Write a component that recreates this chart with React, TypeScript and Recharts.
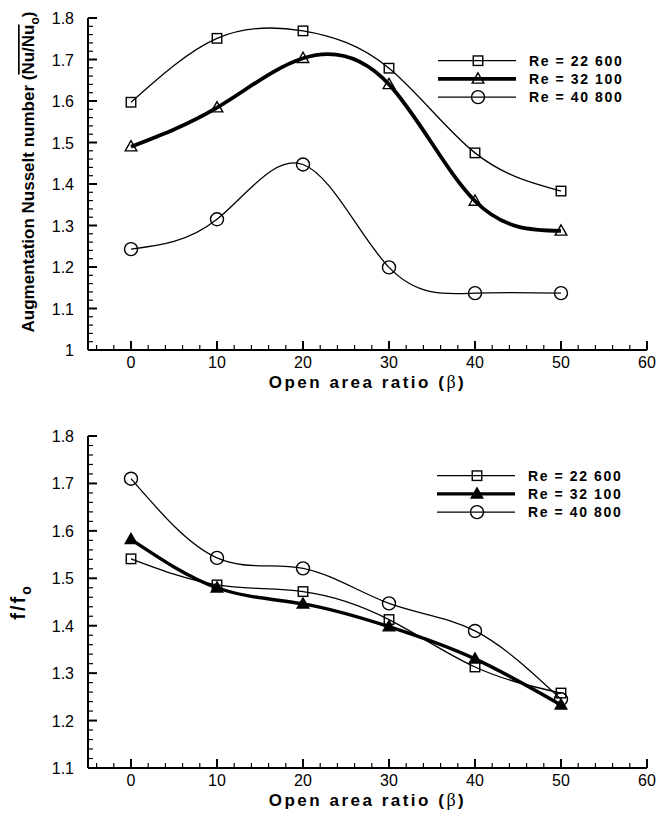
import React from 'react';
import { LineChart, Line, XAxis, YAxis, Legend } from 'recharts';

const FONT = '"Liberation Sans", Arial, Helvetica, sans-serif';

// ---- data ----
const openAreaRatio = [0, 10, 20, 30, 40, 50];
const nuRe22600 = [1.597, 1.751, 1.769, 1.679, 1.475, 1.383];
const nuRe32100 = [1.49, 1.584, 1.703, 1.64, 1.359, 1.287];
const nuRe40800 = [1.243, 1.315, 1.447, 1.199, 1.137, 1.137];
const fRe22600 = [1.541, 1.486, 1.472, 1.413, 1.313, 1.258];
const fRe32100 = [1.582, 1.48, 1.446, 1.398, 1.33, 1.233];
const fRe40800 = [1.71, 1.543, 1.521, 1.447, 1.389, 1.245];
const seriesLabels = ['Re = 22 600', 'Re = 32 100', 'Re = 40 800'];

// ---- tick labels ----
const xMajorTicks = [0, 10, 20, 30, 40, 50, 60];
const nuMajorTicks = [1, 1.1, 1.2, 1.3, 1.4, 1.5, 1.6, 1.7, 1.8];
const fMajorTicks = [1.1, 1.2, 1.3, 1.4, 1.5, 1.6, 1.7, 1.8];

function minorOnly(major: number[], minorStep: number, lo: number, hi: number): number[] {
  const out: number[] = [];
  const start = Math.ceil(lo / minorStep - 1e-9);
  const end = Math.floor(hi / minorStep + 1e-9);
  for (let k = start; k <= end; k++) {
    const v = Math.round(k * minorStep * 1000) / 1000;
    if (!major.some((m) => Math.abs(m - v) < 1e-6)) out.push(v);
  }
  return out;
}

const xMinorTicks = minorOnly(xMajorTicks, 2, -5, 60);
const nuMinorTicks = minorOnly(nuMajorTicks, 0.02, 1, 1.8);
const fMinorTicks = minorOnly(fMajorTicks, 0.02, 1.1, 1.8);

const nuRows = openAreaRatio.map((x, i) => ({ x, a: nuRe22600[i], b: nuRe32100[i], c: nuRe40800[i] }));
const fRows = openAreaRatio.map((x, i) => ({ x, a: fRe22600[i], b: fRe32100[i], c: fRe40800[i] }));

// positions of the inward minor tick marks (placed through the chart's scales)
const nuXMinorRows = xMinorTicks.map((v) => ({ x: v, t: 1 }));
const nuYMinorRows = nuMinorTicks.map((v) => ({ x: -5, t: v }));
const fXMinorRows = xMinorTicks.map((v) => ({ x: v, t: 1.1 }));
const fYMinorRows = fMinorTicks.map((v) => ({ x: -5, t: v }));

const xMinorDot = (p: any) => (
  <path key={`xm${p.index}`} d={`M${p.cx},${p.cy}L${p.cx},${p.cy - 5}`} stroke="#000" strokeWidth={1.2} fill="none" />
);
const yMinorDot = (p: any) => (
  <path key={`ym${p.index}`} d={`M${p.cx},${p.cy}L${p.cx + 5},${p.cy}`} stroke="#000" strokeWidth={1.2} fill="none" />
);

// ---- tick labels (major tick marks drawn by the axes, inward) ----
const renderXTick = (props: any) => {
  const { x, y, payload, index } = props;
  return (
    <text key={`xt${index}`} x={x} y={y + 18} textAnchor="middle" fontSize={16} fontFamily={FONT} fill="#000" stroke="none">
      {String(payload.value)}
    </text>
  );
};

const renderYTick = (props: any) => {
  const { x, y, payload, index } = props;
  return (
    <text key={`yt${index}`} x={x - 14} y={y + 6} textAnchor="end" fontSize={16} fontFamily={FONT} fill="#000" stroke="none">
      {String(Math.round(payload.value * 10) / 10)}
    </text>
  );
};

// ---- titles ----
const XTitle = (props: any) => {
  const vb = props.viewBox || { x: 88, y: 350, width: 559, height: 50 };
  return (
    <text x={vb.x + vb.width / 2} y={vb.y + 38} textAnchor="middle" fontSize={17} fontWeight="bold" fontFamily={FONT} letterSpacing={2.5} fill="#000">
      Open area ratio (<tspan fontFamily='"Liberation Serif", "DejaVu Serif", serif' fontWeight="normal" fontSize={18}>β</tspan>)
    </text>
  );
};

const NuTitle = (props: any) => {
  const vb = props.viewBox || { x: 0, y: 18, width: 88, height: 332 };
  const cx = vb.x + 34;
  const cy = vb.y + vb.height / 2 - 12;
  return (
    <text x={cx} y={cy} transform={`rotate(-90, ${cx}, ${cy})`} textAnchor="middle" fontSize={17} fontWeight="bold" fontFamily={FONT} fill="#000">
      Augmentation Nusselt number (<tspan style={{ textDecoration: 'overline' }}>Nu/Nu</tspan><tspan fontSize={12} dy={5}>o</tspan><tspan dy={-5}>)</tspan>
    </text>
  );
};

const FTitle = (props: any) => {
  const vb = props.viewBox || { x: 0, y: 18, width: 88, height: 332 };
  const cx = vb.x + 25;
  const cy = vb.y + vb.height / 2;
  return (
    <text x={cx} y={cy} transform={`rotate(-90, ${cx}, ${cy})`} textAnchor="middle" fontSize={20} fontWeight="bold" fontFamily={FONT} letterSpacing={2} fill="#000">
      f/f<tspan fontSize={14} dy={6}>o</tspan>
    </text>
  );
};

// ---- markers ----
const squareShape = (cx: number, cy: number, key?: any) => (
  <rect key={key} x={cx - 4.75} y={cy - 4.75} width={9.5} height={9.5} fill="none" stroke="#000" strokeWidth={1.4} />
);
const triShape = (cx: number, cy: number, filled: boolean, key?: any) => (
  <polygon key={key} points={`${cx},${cy - 6} ${cx - 5.8},${cy + 4.2} ${cx + 5.8},${cy + 4.2}`} fill={filled ? '#000' : 'none'} stroke="#000" strokeWidth={1.4} />
);
const circleShape = (cx: number, cy: number, key?: any) => (
  <circle key={key} cx={cx} cy={cy} r={6.5} fill="none" stroke="#000" strokeWidth={1.4} />
);

const dotSquare = (p: any) => squareShape(p.cx, p.cy, `s${p.index}`);
const dotTriOpen = (p: any) => triShape(p.cx, p.cy, false, `t${p.index}`);
const dotTriFilled = (p: any) => triShape(p.cx, p.cy, true, `t${p.index}`);
const dotCircle = (p: any) => circleShape(p.cx, p.cy, `c${p.index}`);

const LegendBox = ({ filledTri, thick }: { filledTri: boolean; thick: number }) => {
  const rows = [0, 1, 2];
  return (
    <svg width={230} height={62}>
      {rows.map((i) => {
        const y = 10.7 + i * 18.2;
        return (
          <g key={i}>
            <line x1={8} x2={86} y1={y} y2={y} stroke="#000" strokeWidth={i === 1 ? thick : 1.3} />
            {i === 0 && squareShape(48, y)}
            {i === 1 && triShape(48, y, filledTri)}
            {i === 2 && circleShape(48, y)}
            <text x={99} y={y + 5} fontSize={14} fontWeight="bold" fontFamily={FONT} letterSpacing={1.6} fill="#000">
              {seriesLabels[i]}
            </text>
          </g>
        );
      })}
    </svg>
  );
};

const axisLine = { stroke: '#000', strokeWidth: 2 };
const majorTickLine = { stroke: '#000', strokeWidth: 2 };

export default function App() {
  return (
    <div style={{ position: 'absolute', left: 0, top: 0, width: 660, height: 817, background: '#fff' }}>
      <div style={{ position: 'absolute', left: 0, top: 0 }}>
        <LineChart width={660} height={400} data={nuRows} margin={{ top: 18, right: 13, bottom: 0, left: 0 }}>
          <XAxis dataKey="x" type="number" domain={[-5, 60]} ticks={xMajorTicks} interval={0} tick={renderXTick} tickLine={majorTickLine} tickSize={-9} tickMargin={9} axisLine={axisLine} height={50} label={<XTitle />} allowDataOverflow />
          <XAxis xAxisId="top" orientation="top" type="number" domain={[-5, 60]} tick={false} tickLine={false} axisLine={axisLine} height={0} allowDataOverflow />
          <YAxis type="number" domain={[1, 1.8]} ticks={nuMajorTicks} interval={0} tick={renderYTick} tickLine={majorTickLine} tickSize={-9} tickMargin={9} axisLine={axisLine} width={88} label={<NuTitle />} allowDataOverflow />
          <YAxis yAxisId="right" orientation="right" type="number" domain={[1, 1.8]} tick={false} tickLine={false} axisLine={axisLine} width={0} allowDataOverflow />
          <Line data={nuXMinorRows} dataKey="t" stroke="none" dot={xMinorDot} activeDot={false} legendType="none" isAnimationActive={false} />
          <Line data={nuYMinorRows} dataKey="t" stroke="none" dot={yMinorDot} activeDot={false} legendType="none" isAnimationActive={false} />
          <Line dataKey="a" type="natural" stroke="#000" strokeWidth={1.3} dot={dotSquare} isAnimationActive={false} />
          <Line dataKey="b" type="natural" stroke="#000" strokeWidth={3.8} dot={dotTriOpen} isAnimationActive={false} />
          <Line dataKey="c" type="natural" stroke="#000" strokeWidth={1.3} dot={dotCircle} isAnimationActive={false} />
          <Legend layout="vertical" align="center" verticalAlign="middle" wrapperStyle={{ left: 430, top: 50, width: 230, height: 62 }} content={() => <LegendBox filledTri={false} thick={3.8} />} />
        </LineChart>
      </div>
      <div style={{ position: 'absolute', left: 0, top: 418 }}>
        <LineChart width={660} height={399} data={fRows} margin={{ top: 18, right: 13, bottom: 0, left: 0 }}>
          <XAxis dataKey="x" type="number" domain={[-5, 60]} ticks={xMajorTicks} interval={0} tick={renderXTick} tickLine={majorTickLine} tickSize={-9} tickMargin={9} axisLine={axisLine} height={49} label={<XTitle />} allowDataOverflow />
          <XAxis xAxisId="top" orientation="top" type="number" domain={[-5, 60]} tick={false} tickLine={false} axisLine={axisLine} height={0} allowDataOverflow />
          <YAxis type="number" domain={[1.1, 1.8]} ticks={fMajorTicks} interval={0} tick={renderYTick} tickLine={majorTickLine} tickSize={-9} tickMargin={9} axisLine={axisLine} width={88} label={<FTitle />} allowDataOverflow />
          <YAxis yAxisId="right" orientation="right" type="number" domain={[1.1, 1.8]} tick={false} tickLine={false} axisLine={axisLine} width={0} allowDataOverflow />
          <Line data={fXMinorRows} dataKey="t" stroke="none" dot={xMinorDot} activeDot={false} legendType="none" isAnimationActive={false} />
          <Line data={fYMinorRows} dataKey="t" stroke="none" dot={yMinorDot} activeDot={false} legendType="none" isAnimationActive={false} />
          <Line dataKey="a" type="natural" stroke="#000" strokeWidth={1.3} dot={dotSquare} isAnimationActive={false} />
          <Line dataKey="b" type="natural" stroke="#000" strokeWidth={3.4} dot={dotTriFilled} isAnimationActive={false} />
          <Line dataKey="c" type="natural" stroke="#000" strokeWidth={1.3} dot={dotCircle} isAnimationActive={false} />
          <Legend layout="vertical" align="center" verticalAlign="middle" wrapperStyle={{ left: 429, top: 47, width: 230, height: 62 }} content={() => <LegendBox filledTri={true} thick={3.4} />} />
        </LineChart>
      </div>
    </div>
  );
}
